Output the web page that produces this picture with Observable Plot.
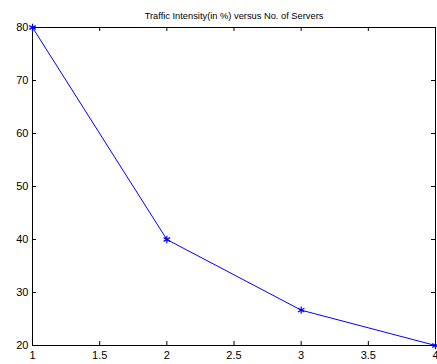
<!DOCTYPE html>
<html><head><meta charset="utf-8">
<script src="https://cdn.jsdelivr.net/npm/d3@7"></script>
<script src="https://cdn.jsdelivr.net/npm/@observablehq/plot@0.6"></script>
<style>body{margin:0;background:#fff}</style>
</head><body><div id="c"></div>
<script>
const servers = [1, 2, 3, 4];
const intensity = [80, 40, 26.67, 20];
const xTicks = [1, 1.5, 2, 2.5, 3, 3.5, 4];
const yTicks = [20, 30, 40, 50, 60, 70, 80];
const title = "Traffic Intensity(in %) versus No. of Servers";

const data = servers.map((s, i) => ({s, v: intensity[i]}));
const W = 437, H = 364, mL = 32, mR = 2, mT = 27, mB = 19;
const pw = W - mL - mR, ph = H - mT - mB, tk = 4;

const chart = Plot.plot({
  width: W, height: H,
  marginLeft: mL, marginRight: mR, marginTop: mT, marginBottom: mB,
  style: {fontFamily: "'Liberation Sans', Arial, sans-serif", fontSize: "11px", background: "#fff", overflow: "visible"},
  x: {domain: [1, 4], label: null},
  y: {domain: [20, 80], label: null},
  marks: [
    Plot.axisX(xTicks, {tickSize: 0, tickPadding: 6, tickFormat: d => String(d), fontSize: 11, fill: "#000", label: null}),
    Plot.axisY(yTicks, {tickSize: 0, tickPadding: 4, tickFormat: d => String(d), fontSize: 11, fill: "#000", label: null}),
    Plot.tickX(xTicks, {x: d => d, insetTop: ph - tk, stroke: "#000"}),
    Plot.tickX(xTicks, {x: d => d, insetBottom: ph - tk, stroke: "#000"}),
    Plot.tickY(yTicks, {y: d => d, insetRight: pw - tk, stroke: "#000"}),
    Plot.tickY(yTicks, {y: d => d, insetLeft: pw - tk, stroke: "#000"}),
    Plot.frame({stroke: "#000", strokeWidth: 1}),
    Plot.line(data, {x: "s", y: "v", stroke: "#0000ff", strokeWidth: 1}),
    Plot.dot(data, {x: "s", y: "v", symbol: "asterisk", r: 3.5, stroke: "#0000ff", strokeWidth: 1.2}),
    Plot.text([title], {frameAnchor: "top", dy: -15, text: d => d, fontSize: 9.3, fill: "#000"})
  ]
});
document.getElementById("c").appendChild(chart);
</script>
</body></html>
